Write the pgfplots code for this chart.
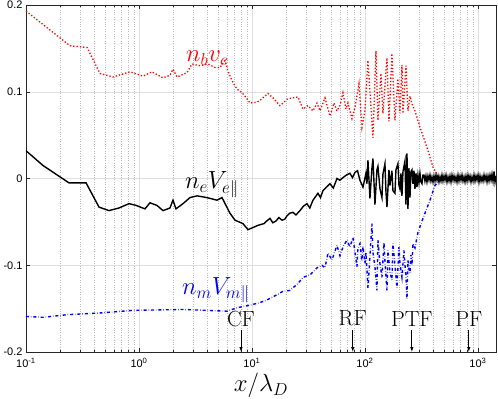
\documentclass[border=0pt]{standalone}
\usepackage{fontspec}
\usepackage{pgfplots}
\pgfplotsset{compat=1.18}
\usetikzlibrary{arrows.meta}
\newfontfamily\tickfont{Liberation Sans}
\newcommand{\bigf}{\fontsize{23}{26}\selectfont}

\begin{document}
\begin{tikzpicture}
\begin{axis}[
  scale only axis,
  width=470bp, height=347bp,
  xmode=log,
  xmin=0.1, xmax=1445,
  ymin=-0.2, ymax=0.2,
  xtick={0.1,1,10,100,1000},
  xticklabels={10\textsuperscript{-1},10\textsuperscript{0},10\textsuperscript{1},10\textsuperscript{2},10\textsuperscript{3}},
  minor xtick={0.2,0.3,0.4,0.5,0.6,0.7,0.8,0.9,2,3,4,5,6,7,8,9,20,30,40,50,60,70,80,90,200,300,400,500,600,700,800,900},
  ytick={-0.2,-0.1,0,0.1,0.2},
  yticklabels={-0.2,-0.1,0,0.1,0.2},
  grid=both,
  major grid style={gray!25, line width=0.5bp},
  minor grid style={gray!55, dotted, line width=0.5bp},
  tick align=inside,
  major tick length=4bp, minor tick length=2.5bp,
  tick style={black!85, line width=0.5bp},
  axis line style={black!85, line width=0.6bp},
  tick label style={font=\tickfont\fontsize{11}{13}\selectfont},
  xticklabel style={yshift=-2.5bp},
  xlabel={$x/\lambda_D$},
  xlabel style={font=\bigf, yshift=1bp},
]
% n_b v_c
\addplot[red, dotted, line width=1.3bp] coordinates {
 (0.1,0.193) (0.245,0.153) (0.347,0.151) (0.452,0.121) (0.589,0.117)
 (0.832,0.123) (1.085,0.118) (1.303,0.123) (1.631,0.116) (1.880,0.119)
 (2.000,0.126) (2.169,0.117) (2.660,0.122) (2.944,0.132) (3.466,0.130)
 (4.079,0.132) (4.706,0.128) (5.210,0.128) (5.770,0.136) (6.132,0.124)
 (6.653,0.113) (7.367,0.103) (8.156,0.099) (9.032,0.092) (9.600,0.087)
 (11.07,0.088) (11.77,0.090) (13.86,0.098) (15.34,0.093) (17.69,0.084)
 (20.83,0.092) (25.53,0.094) (28.27,0.080) (31.30,0.084) (34.66,0.078)
 (37.61,0.087) (39.97,0.078) (44.26,0.093) (49.01,0.072) (53.18,0.087)
 (56.52,0.078) (60.07,0.084) (63.86,0.099) (67.88,0.080) (70.70,0.087)
 (76.74,0.069) (81.56,0.082) (88.51,0.109) (94.08,0.059) (100.0,0.078)
 (106.3,0.136) (113.0,0.082) (117.7,0.047) (125.1,0.147) (130.3,0.067)
 (138.6,0.121) (144.3,0.075) (156.6,0.139) (163.1,0.066) (173.3,0.144)
 (184.3,0.067) (195.9,0.115) (204.1,0.075) (212.6,0.131) (217.0,0.075)
 (230.6,0.130) (240.2,0.078) (250.2,0.095) (260.7,0.086) (277.1,0.078)
 (306.8,0.059) (353.9,0.036) (400.0,0.013) (443.0,0.003) (470.9,0.000)
};
% n_m V_m
\addplot[blue, dash dot, line width=1.4bp] coordinates {
 (0.1,-0.159) (0.1414,-0.160) (0.2306,-0.157) (0.452,-0.155) (0.885,-0.152)
 (2.452,-0.151) (3.997,-0.152) (6.007,-0.153) (7.367,-0.149) (9.600,-0.146)
 (11.77,-0.143) (13.58,-0.140) (16.64,-0.134) (18.80,-0.130) (21.69,-0.129)
 (25.53,-0.121) (28.27,-0.114) (32.62,-0.111) (37.61,-0.103) (41.64,-0.100)
 (44.26,-0.103) (47.06,-0.086) (51.05,-0.094) (56.52,-0.077) (60.07,-0.089)
 (63.86,-0.079) (69.29,-0.071) (73.67,-0.079) (78.29,-0.068) (81.56,-0.085)
 (84.95,-0.102) (86.7,-0.080) (90.32,-0.075) (94.08,-0.095) (96.0,-0.078)
 (100.0,-0.098) (102.1,-0.085) (106.3,-0.126) (110.7,-0.090) (115.3,-0.052)
 (117.7,-0.085) (122.6,-0.102) (127.7,-0.129) (130.3,-0.071) (135.8,-0.098)
 (141.4,-0.114) (147.3,-0.074) (150.3,-0.095) (156.6,-0.129) (159.8,-0.083)
 (166.4,-0.108) (173.3,-0.117) (176.9,-0.075) (184.3,-0.100) (192.0,-0.126)
 (200.0,-0.079) (204.1,-0.098) (212.6,-0.114) (221.4,-0.083) (226.0,-0.100)
 (230.6,-0.112) (235.4,-0.139) (240.2,-0.094) (245.2,-0.104) (250.2,-0.109)
 (255.4,-0.088) (260.7,-0.100) (266.0,-0.075) (277.1,-0.080) (294.6,-0.062)
 (326.2,-0.046) (376.3,-0.025) (416.7,-0.008) (452.1,-0.003)
};
% n_e V_e
\addplot[black, line width=1.4bp] coordinates {
 (0.1,0.032) (0.1414,0.015) (0.240,-0.005) (0.340,-0.005) (0.443,-0.033)
 (0.543,-0.037) (0.665,-0.034) (0.816,-0.029) (0.941,-0.031) (1.130,-0.035)
 (1.251,-0.028) (1.443,-0.031) (1.631,-0.037) (1.880,-0.034) (2.000,-0.025)
 (2.125,-0.035) (2.452,-0.029) (2.828,-0.022) (3.262,-0.020) (3.997,-0.022)
 (4.901,-0.025) (5.428,-0.022) (6.386,-0.040) (7.070,-0.048) (8.324,-0.052)
 (9.218,-0.059) (11.30,-0.054) (12.77,-0.052) (13.5,-0.049) (14.43,-0.046)
 (15.3,-0.051) (16.31,-0.049) (17.3,-0.045) (18.42,-0.048) (19.5,-0.047)
 (20.40,-0.043) (21.6,-0.040) (23.06,-0.039) (24.5,-0.042) (26.60,-0.037)
 (28.5,-0.032) (30.67,-0.029) (32.5,-0.034) (34.66,-0.025) (36.5,-0.021)
 (38.38,-0.017) (40.4,-0.022) (42.49,-0.014) (45.5,-0.010) (49.01,-0.006)
 (52.5,-0.011) (56.52,0.000) (60.0,-0.002) (63.86,0.001) (68.5,0.004)
 (73.67,0.006) (77.5,0.001) (81.56,0.007) (86.0,0.009) (90.32,-0.002)
 (96.0,-0.010)
 (102.1,0.006) (104.2,-0.006) (106.3,0.021) (110.7,-0.023) (115.3,0.012)
 (117.7,0.023) (122.6,-0.030) (127.7,0.010) (130.3,0.014) (135.8,-0.012)
 (141.4,-0.022) (144.3,0.005) (150.3,0.017) (153.4,-0.015) (156.6,-0.033)
 (163.1,0.010) (166.4,-0.008) (173.3,0.009) (176.9,-0.014) (184.3,-0.017)
 (188.1,0.010) (195.9,0.017) (200.0,-0.008) (204.1,-0.012) (208.3,0.006)
 (212.6,-0.020) (217.0,0.008) (226.0,0.020) (230.6,-0.030) (235.4,0.029)
 (240.2,-0.035) (245.2,0.012) (250.2,-0.022) (255.4,0.008) (260.7,0.010)
 (266.0,-0.006) (271.5,0.009) (277.1,-0.012) (282.8,0.006) (288.6,-0.010)
 (294.6,0.004) (300.6,-0.005) (306.8,0.006) (313.2,-0.004) (319.6,-0.006)
 (326.2,0.004)
 (332.9,0.004) (339.8,-0.003) (346.8,0.003) (353.9,-0.004) (361.2,0.003)
 (368.7,-0.002) (376.3,0.004) (384.0,-0.003) (391.9,0.002) (400.0,-0.004)
 (408.3,0.003) (416.7,-0.003) (425.3,0.004) (434.0,-0.002) (443.0,0.003)
 (452.1,-0.004) (461.4,0.002) (470.9,-0.003) (480.6,0.004) (490.5,-0.003)
 (500.6,0.003) (511.0,-0.002) (521.5,0.004) (532.2,-0.004) (543.2,0.002)
 (554.4,-0.003) (565.8,0.003) (577.5,-0.004) (589.4,0.004) (601.5,-0.002)
 (613.9,0.003) (626.6,-0.003) (639.5,0.002) (652.6,-0.004) (666.1,0.004)
 (679.8,-0.003) (693.8,0.003) (708.1,-0.002) (722.7,0.004) (737.6,-0.003)
 (752.8,0.002) (768.3,-0.004) (784.1,0.003) (800.3,-0.003) (816.8,0.004)
 (833.6,-0.002) (850.8,0.003) (868.3,-0.004) (886.2,0.002) (904.5,-0.003)
 (923.1,0.004) (942.1,-0.003) (961.6,0.003) (981.4,-0.002) (1001.6,0.004)
 (1022,-0.004) (1043,0.003) (1065,-0.003) (1087,0.002) (1109,-0.003)
 (1132,0.004) (1155,-0.002) (1179,0.003) (1203,-0.004) (1228,0.003)
 (1253,-0.003) (1279,0.004) (1306,-0.002) (1332,0.005) (1360,-0.003)
 (1388,0.008) (1416,-0.004) (1445,0.003)
};
% curve labels
\node[text=red, font=\bigf] at (axis cs:4.0,0.139) {$n_b v_c$};
\node[text=black, font=\bigf] at (axis cs:4.43,-0.007) {$n_e V_{e\parallel}$};
\node[text=blue, font=\bigf] at (axis cs:4.8,-0.129) {$n_m V_{m\parallel}$};
% front markers
\foreach \xx/\lab in {8/CF, 78/RF, 260/PTF, 830/PF} {
  \edef\temp{\noexpand\draw[-{Latex[length=5bp,width=3.5bp]}, line width=0.8bp]
    (axis cs:\xx,-0.175) -- (axis cs:\xx,-0.2);
    \noexpand\node[font=\noexpand\fontsize{22}{26}\noexpand\selectfont] at (axis cs:\xx,-0.1615) {\lab};}
  \temp
}
\end{axis}
\pgfresetboundingbox
\path (current axis.south west) +(-26bp,-46bp) (current axis.north east) +(2bp,5bp);
\end{tikzpicture}
\end{document}
